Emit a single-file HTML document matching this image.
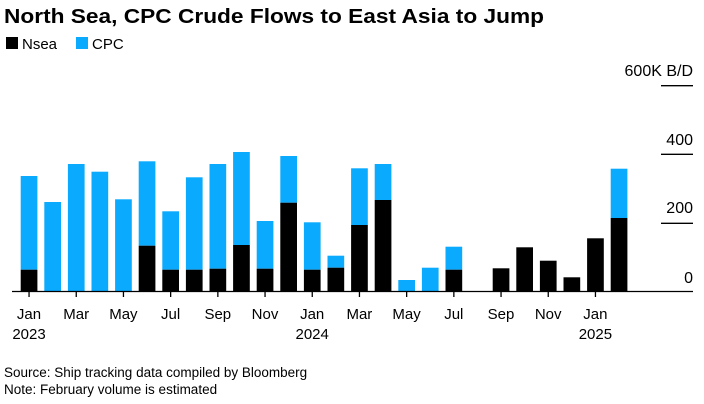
<!DOCTYPE html>
<html><head><meta charset="utf-8"><style>
html,body{margin:0;padding:0;background:#fff;}
svg{display:block;font-family:"Liberation Sans",Arial,sans-serif;}
</style></head><body>
<svg width="704" height="404" viewBox="0 0 704 404" xmlns="http://www.w3.org/2000/svg">
<text x="4" y="23" font-size="20" font-weight="bold" fill="#000" textLength="540" lengthAdjust="spacingAndGlyphs">North Sea, CPC Crude Flows to East Asia to Jump</text>
<rect x="6" y="37" width="12" height="12" fill="#000"/>
<text x="22" y="49" font-size="15" fill="#000">Nsea</text>
<rect x="76" y="37" width="12" height="12" fill="#0aaaff"/>
<text x="92" y="49" font-size="15" fill="#000">CPC</text>
<g stroke="#000" stroke-width="1.3">
<line x1="661" y1="85.7" x2="693" y2="85.7"/>
<line x1="661" y1="154.3" x2="693" y2="154.3"/>
<line x1="661" y1="223.3" x2="693" y2="223.3"/>
</g>
<g font-size="16" fill="#000" text-anchor="end">
<text x="693" y="76">600K B/D</text>
<text x="693" y="145">400</text>
<text x="693" y="213">200</text>
<text x="693" y="283">0</text>
</g>
<g id="bars"></g>
<line x1="12" y1="291.5" x2="693" y2="291.5" stroke="#000" stroke-width="1.3"/>
<g id="ticks"></g>
<g font-size="15" fill="#000" text-anchor="middle">
<text x="29" y="319">Jan</text><text x="29" y="339">2023</text>
<text x="76.2" y="319">Mar</text>
<text x="123.4" y="319">May</text>
<text x="170.6" y="319">Jul</text>
<text x="217.8" y="319">Sep</text>
<text x="265" y="319">Nov</text>
<text x="312.2" y="319">Jan</text><text x="312.2" y="339">2024</text>
<text x="359.4" y="319">Mar</text>
<text x="406.6" y="319">May</text>
<text x="453.8" y="319">Jul</text>
<text x="501" y="319">Sep</text>
<text x="548.2" y="319">Nov</text>
<text x="595.4" y="319">Jan</text><text x="595.4" y="339">2025</text>
</g>
<text x="4" y="377" font-size="13.5" fill="#000">Source: Ship tracking data compiled by Bloomberg</text>
<text x="4" y="394" font-size="13.5" fill="#000">Note: February volume is estimated</text>
<script>
var tops=[176,202,164,171.7,199.3,161.3,211.3,177.3,164,152,221,156,222.3,255.7,168.3,164,280,267.7,246.7,291.5,268.3,247.3,260.7,277.3,238.3,168.7];
var blk=[269.7,291.5,291.5,291.5,291.5,245.7,269.7,269.7,268.7,245,268.7,202.7,269.7,267.7,225,200,291.5,291.5,269.7,291.5,268.3,247.3,260.7,277.3,238.3,218];
var ns="http://www.w3.org/2000/svg",g=document.getElementById("bars"),t=document.getElementById("ticks");
function r(x,y,h,c){var e=document.createElementNS(ns,"rect");e.setAttribute("x",x);e.setAttribute("y",y);e.setAttribute("width",16.7);e.setAttribute("height",Math.max(0,h));e.setAttribute("fill",c);g.appendChild(e);}
for(var i=0;i<26;i++){var x=20.7+23.6*i;r(x,tops[i],blk[i]-tops[i],"#0aaaff");r(x,blk[i],291.5-blk[i],"#000");
if(i%2==0&&i<25){var l=document.createElementNS(ns,"line");l.setAttribute("x1",x+8.35);l.setAttribute("x2",x+8.35);l.setAttribute("y1",291.5);l.setAttribute("y2",297);l.setAttribute("stroke","#000");l.setAttribute("stroke-width","1.3");t.appendChild(l);}}
</script>
</svg>
</body></html>
